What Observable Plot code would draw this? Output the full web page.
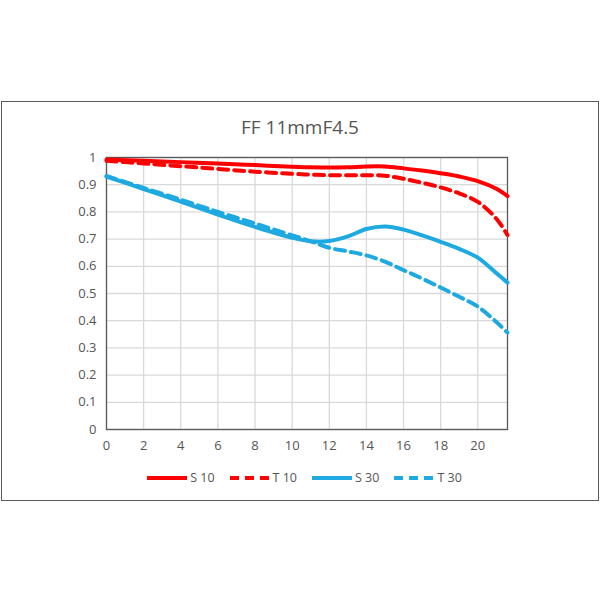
<!DOCTYPE html>
<html>
<head>
<meta charset="utf-8">
<script src="https://cdn.jsdelivr.net/npm/d3@7"></script>
<script src="https://cdn.jsdelivr.net/npm/@observablehq/plot@0.6"></script>
<style>
  html, body { margin: 0; padding: 0; background: #fff; }
  #wrap { position: relative; width: 600px; height: 600px; font-family: "Open Sans", sans-serif; color: #595959; }
  #box { position: absolute; left: 1px; top: 101px; width: 596px; height: 398px; border: 1.5px solid #5a5a5a; }
  #title { position: absolute; left: 0; width: 600px; top: 114px; text-align: center; font-size: 19px; color: #555; }
  #chart { position: absolute; left: 0; top: 140px; }
  #legend { position: absolute; left: 4px; top: 469px; width: 600px; display: flex; justify-content: center; font-size: 12.5px; color: #555; }
  .item { display: flex; align-items: center; margin: 0 7px; }
  .item svg { margin-right: 2px; }
</style>
</head>
<body>
<div id="wrap">
  <div id="box"></div>
  <div id="title">FF 11mmF4.5</div>
  <div id="chart"></div>
  <div id="legend"></div>
</div>
<script>
const xs  = [0, 2, 4, 6, 8, 10, 11, 12, 13, 14, 15, 16, 17, 18, 19, 20, 21, 21.6];
const s10 = [0.993,0.988,0.983,0.978,0.972,0.966,0.964,0.963,0.964,0.967,0.967,0.960,0.952,0.942,0.930,0.913,0.885,0.858];
const t10 = [0.988,0.978,0.968,0.958,0.948,0.940,0.937,0.935,0.935,0.935,0.933,0.922,0.907,0.890,0.868,0.837,0.775,0.715];
const s30 = [0.930,0.884,0.838,0.790,0.745,0.705,0.692,0.693,0.710,0.737,0.746,0.735,0.714,0.690,0.664,0.632,0.575,0.540];
const t30 = [0.932,0.888,0.845,0.800,0.757,0.714,0.692,0.668,0.655,0.640,0.617,0.586,0.555,0.522,0.488,0.452,0.395,0.356];
const xTicks = [0, 2, 4, 6, 8, 10, 12, 14, 16, 18, 20];
const yTicks = [0, 0.1, 0.2, 0.3, 0.4, 0.5, 0.6, 0.7, 0.8, 0.9, 1];

const RED = "#ff0000", BLUE = "#1ea9e1";
const seriesDefs = [
  {name: "S 10", values: s10, color: RED, dash: null},
  {name: "T 10", values: t10, color: RED, dash: "10,6"},
  {name: "S 30", values: s30, color: BLUE, dash: null},
  {name: "T 30", values: t30, color: BLUE, dash: "10,6"}
];

const lineMarks = seriesDefs.map(s => Plot.line(xs.map((x, i) => ({x, y: s.values[i]})), {
  x: "x", y: "y", stroke: s.color, strokeWidth: 4, curve: "catmull-rom",
  strokeDasharray: s.dash || undefined
}));

const fmtY = d => String(+d.toFixed(1));
const chart = Plot.plot({
  width: 600, height: 320,
  marginLeft: 106, marginRight: 93, marginTop: 17, marginBottom: 31,
  style: {fontFamily: "Open Sans, sans-serif", fontSize: "13px", color: "#555", background: "transparent"},
  x: {domain: [0, 21.6], ticks: xTicks, tickSize: 0, tickPadding: 11, label: null},
  y: {domain: [0, 1], ticks: yTicks, tickSize: 0, tickPadding: 10, label: null, tickFormat: fmtY},
  marks: [
    Plot.gridX(xTicks, {stroke: "#d9d9d9", strokeOpacity: 1, strokeWidth: 1.3}),
    Plot.gridY(yTicks, {stroke: "#d9d9d9", strokeOpacity: 1, strokeWidth: 1.3}),
    Plot.frame({stroke: "#595959", strokeWidth: 1.3}),
    ...lineMarks,
    Plot.axisX({ticks: xTicks, tickSize: 0, tickPadding: 11, fill: "#555"}),
    Plot.axisY({ticks: yTicks, tickSize: 0, tickPadding: 10, fill: "#555", tickFormat: fmtY})
  ]
});
document.getElementById("chart").appendChild(chart);

const legend = document.getElementById("legend");
seriesDefs.forEach(s => {
  const item = document.createElement("div");
  item.className = "item";
  item.innerHTML = `<svg width="42" height="12"><line x1="1" y1="6" x2="41" y2="6" stroke="${s.color}" stroke-width="4" ${s.dash ? `stroke-dasharray="9,6"` : ""}/></svg><span>${s.name}</span>`;
  legend.appendChild(item);
});
</script>
</body>
</html>
